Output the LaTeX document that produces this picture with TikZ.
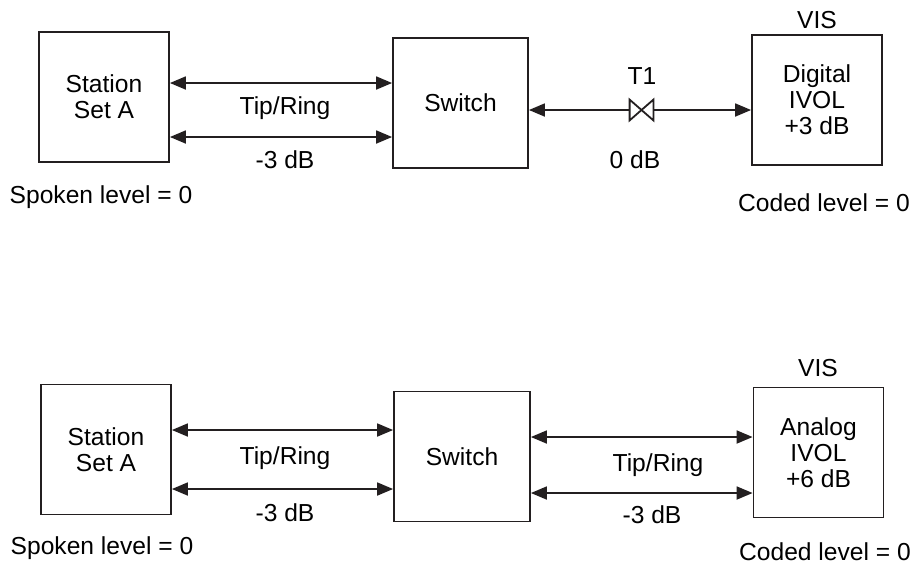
\documentclass[tikz,border=0pt]{standalone}
\usepackage{fontspec}
\setmainfont{Liberation Sans}
\usetikzlibrary{arrows.meta}
\definecolor{linegray}{RGB}{35, 31, 32}

\begin{document}
\begin{tikzpicture}[x=0.5pt, y=-0.5pt,
    font=\fontsize{12.3}{13}\selectfont,
    box/.style={draw=linegray, line width=0.9pt, minimum width=65pt, minimum height=65pt, align=center, inner sep=0pt},
    dbl/.style={draw=linegray, line width=0.9pt, {Triangle[length=8pt,width=6.5pt]}-{Triangle[length=8pt,width=6.5pt]}},
    one/.style={draw=linegray, line width=0.9pt, -{Triangle[length=8pt,width=6.5pt]}},
    valve/.style={minimum width=11.5pt, minimum height=10pt, inner sep=0pt}]
    \useasboundingbox (0,0) rectangle (914,564);

    % Digital
    \node[box] (staA) at (104, 97) {Station\\Set A};
    \node[box, minimum width=67.5pt] (swA) at (460.5, 103) {Switch};
    \node[box] (visA) at (817, 100) {Digital\\IVOL\\+3 dB};
    \node[valve] (t1) at (641.5, 110) {};
    \draw[linegray, line width=0.9pt, line join=miter] (t1.north west) -- (t1.south east) -- (t1.north east) -- (t1.south west) -- cycle;

    \node (visAlbl) at (817, 20) {VIS};
    \node (t1lbl) at (642, 76) {T1};
    \node (trA) at (285, 108) {Tip/Ring};
    \node (dbA) at (285, 160) {-3 dB};
    \node (dbT) at (635, 160) {0 dB};
    \node (spA) at (101, 197) {Spoken level = 0};
    \node (cdA) at (824, 203) {Coded level = 0};

    \draw[dbl] (staA.east |- 0,83) -- (swA.west |- 0,83);
    \draw[dbl] (staA.east |- 0,137) -- (swA.west |- 0,137);
    \draw[one] (t1.west) -- (swA.east |- t1.west);
    \draw[one] (t1.east) -- (visA.west |- t1.east);

    % Analog
    \node[box] (staB) at (106, 449.5) {Station\\Set A};
    \node[box, minimum width=68pt] (swB) at (462, 456.5) {Switch};
    \node[box] (visB) at (818.5, 452.5) {Analog\\IVOL\\+6 dB};

    \node (visBlbl) at (818, 368) {VIS};
    \node (trB) at (285, 458) {Tip/Ring};
    \node (dbB) at (285, 513) {-3 dB};
    \node (trC) at (658, 465) {Tip/Ring};
    \node (dbC) at (652, 515) {-3 dB};
    \node (spB) at (102, 548) {Spoken level = 0};
    \node (cdB) at (825, 552) {Coded level = 0};

    \draw[dbl] (staB.east |- 0,430) -- (swB.west |- 0,430);
    \draw[dbl] (staB.east |- 0,489) -- (swB.west |- 0,489);
    \draw[dbl] (swB.east |- 0,437) -- (visB.west |- 0,437);
    \draw[dbl] (swB.east |- 0,493) -- (visB.west |- 0,493);
\end{tikzpicture}
\end{document}
